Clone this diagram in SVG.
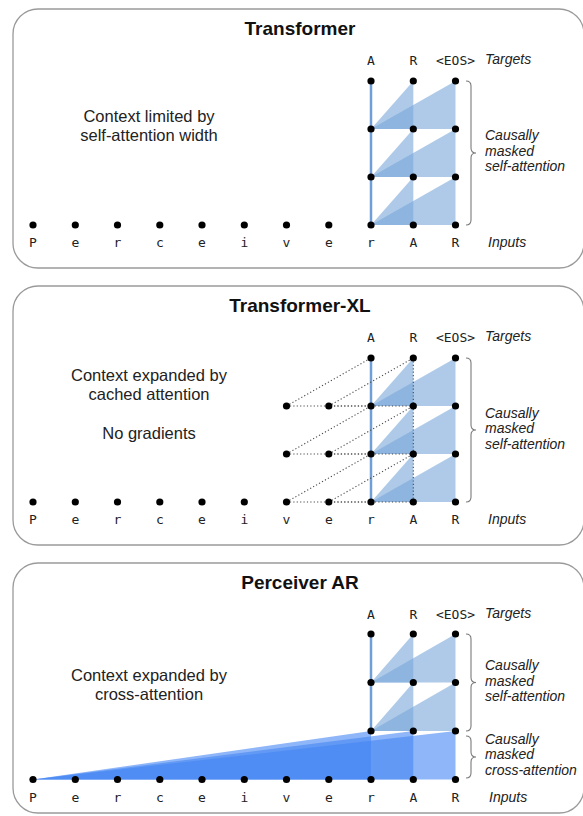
<svg xmlns="http://www.w3.org/2000/svg" width="583" height="816" viewBox="0 0 583 816">
  <style>
    .panel { fill: #ffffff; stroke: #9a9a9a; stroke-width: 1.3; }
    .title { font-family: "Liberation Sans", Arial, sans-serif; font-weight: bold; font-size: 19px; fill: #111; text-anchor: middle; }
    .note { font-family: "Liberation Sans", Arial, sans-serif; font-size: 16.5px; fill: #222; text-anchor: middle; }
    .side { font-family: "Liberation Sans", Arial, sans-serif; font-style: italic; font-size: 14px; fill: #222; }
    .tok { font-family: "DejaVu Sans Mono", "Liberation Mono", monospace; font-size: 13px; fill: #222; text-anchor: middle; }
    .self { fill: #78a7d9; fill-opacity: 0.6; stroke: none; }
    .cross { fill: #4285f4; fill-opacity: 0.6; stroke: none; }
    .aline { stroke: #6f9fd6; stroke-width: 2.5; fill: none; }
    .dot { fill: #000; }
    .dotted { stroke: #4a4a4a; stroke-width: 1.1; stroke-dasharray: 1.2 2.2; fill: none; }
    .brace { stroke: #7a7a7a; stroke-width: 1.1; fill: none; }
  </style>

  <!-- ===================== Panel 1: Transformer ===================== -->
  <g id="transformer">
    <rect class="panel" x="13" y="9" width="571" height="259" rx="25"/>
    <text class="title" x="300" y="35">Transformer</text>
    <text class="note" x="149" y="122">Context limited by</text>
    <text class="note" x="149" y="141">self-attention width</text>

    <g id="t-attention">
      <polygon class="self" points="371,129 413.3,81 413.3,129"/>
      <polygon class="self" points="371,129 455.5,81 455.5,129"/>
      <polygon class="self" points="371,177 413.3,129 413.3,177"/>
      <polygon class="self" points="371,177 455.5,129 455.5,177"/>
      <polygon class="self" points="371,225 413.3,177 413.3,225"/>
      <polygon class="self" points="371,225 455.5,177 455.5,225"/>
      <line class="aline" x1="371" y1="81" x2="371" y2="225"/>
    </g>

    <g id="t-nodes">
      <circle class="dot" cx="371" cy="81" r="3.6"/>
      <circle class="dot" cx="413.3" cy="81" r="3.6"/>
      <circle class="dot" cx="455.5" cy="81" r="3.6"/>
      <circle class="dot" cx="371" cy="129" r="3.6"/>
      <circle class="dot" cx="413.3" cy="129" r="3.6"/>
      <circle class="dot" cx="455.5" cy="129" r="3.6"/>
      <circle class="dot" cx="371" cy="177" r="3.6"/>
      <circle class="dot" cx="413.3" cy="177" r="3.6"/>
      <circle class="dot" cx="455.5" cy="177" r="3.6"/>
      <circle class="dot" cx="33" cy="225" r="3.6"/>
      <circle class="dot" cx="75.3" cy="225" r="3.6"/>
      <circle class="dot" cx="117.5" cy="225" r="3.6"/>
      <circle class="dot" cx="159.8" cy="225" r="3.6"/>
      <circle class="dot" cx="202" cy="225" r="3.6"/>
      <circle class="dot" cx="244.3" cy="225" r="3.6"/>
      <circle class="dot" cx="286.5" cy="225" r="3.6"/>
      <circle class="dot" cx="328.8" cy="225" r="3.6"/>
      <circle class="dot" cx="371" cy="225" r="3.6"/>
      <circle class="dot" cx="413.3" cy="225" r="3.6"/>
      <circle class="dot" cx="455.5" cy="225" r="3.6"/>
    </g>

    <g id="t-labels">
      <text class="tok" x="371" y="65">A</text>
      <text class="tok" x="413.3" y="65">R</text>
      <text class="tok" x="455.5" y="65">&lt;EOS&gt;</text>
      <text class="side" x="485" y="64">Targets</text>
      <text class="tok" x="33" y="247">P</text>
      <text class="tok" x="75.3" y="247">e</text>
      <text class="tok" x="117.5" y="247">r</text>
      <text class="tok" x="159.8" y="247">c</text>
      <text class="tok" x="202" y="247">e</text>
      <text class="tok" x="244.3" y="247">i</text>
      <text class="tok" x="286.5" y="247">v</text>
      <text class="tok" x="328.8" y="247">e</text>
      <text class="tok" x="371" y="247">r</text>
      <text class="tok" x="413.3" y="247">A</text>
      <text class="tok" x="455.5" y="247">R</text>
      <text class="side" x="488" y="247">Inputs</text>
      <path class="brace" d="M466 81 Q471 81 471 86 L471 148 Q471 153 476 153 Q471 153 471 158 L471 220 Q471 225 466 225"/>
      <text class="side" x="485" y="140">Causally</text>
      <text class="side" x="485" y="155.5">masked</text>
      <text class="side" x="485" y="171">self-attention</text>
    </g>
  </g>

  <!-- ===================== Panel 2: Transformer-XL ===================== -->
  <g id="transformer-xl">
    <rect class="panel" x="13" y="286" width="571" height="259" rx="25"/>
    <text class="title" x="300" y="312">Transformer-XL</text>
    <text class="note" x="149" y="381">Context expanded by</text>
    <text class="note" x="149" y="400">cached attention</text>
    <text class="note" x="149" y="439">No gradients</text>

    <g id="xl-attention">
      <polygon class="self" points="371,406 413.3,358 413.3,406"/>
      <polygon class="self" points="371,406 455.5,358 455.5,406"/>
      <polygon class="self" points="371,454 413.3,406 413.3,454"/>
      <polygon class="self" points="371,454 455.5,406 455.5,454"/>
      <polygon class="self" points="371,502 413.3,454 413.3,502"/>
      <polygon class="self" points="371,502 455.5,454 455.5,502"/>
      <line class="aline" x1="371" y1="358" x2="371" y2="502"/>
    </g>

    <!-- cached-memory connections (no gradients) -->
    <g id="xl-connectors">
      <line class="dotted" x1="286.5" y1="406" x2="371" y2="358"/>
      <line class="dotted" x1="328.8" y1="406" x2="413.3" y2="358"/>
      <line class="dotted" x1="286.5" y1="454" x2="371" y2="406"/>
      <line class="dotted" x1="328.8" y1="454" x2="413.3" y2="406"/>
      <line class="dotted" x1="286.5" y1="502" x2="371" y2="454"/>
      <line class="dotted" x1="328.8" y1="502" x2="413.3" y2="454"/>
      <line class="dotted" x1="286.5" y1="406" x2="413.3" y2="406"/>
      <line class="dotted" x1="286.5" y1="454" x2="413.3" y2="454"/>
      <line class="dotted" x1="286.5" y1="502" x2="413.3" y2="502"/>
      <line class="dotted" x1="328.8" y1="406" x2="371" y2="406" stroke-dashoffset="1.7"/>
      <line class="dotted" x1="328.8" y1="454" x2="371" y2="454" stroke-dashoffset="1.7"/>
      <line class="dotted" x1="328.8" y1="502" x2="371" y2="502" stroke-dashoffset="1.7"/>
      <line class="dotted" x1="413.3" y1="358" x2="413.3" y2="502"/>
    </g>

    <g id="xl-nodes">
      <circle class="dot" cx="371" cy="358" r="3.6"/>
      <circle class="dot" cx="413.3" cy="358" r="3.6"/>
      <circle class="dot" cx="455.5" cy="358" r="3.6"/>
      <circle class="dot" cx="286.5" cy="406" r="3.6"/>
      <circle class="dot" cx="328.8" cy="406" r="3.6"/>
      <circle class="dot" cx="371" cy="406" r="3.6"/>
      <circle class="dot" cx="413.3" cy="406" r="3.6"/>
      <circle class="dot" cx="455.5" cy="406" r="3.6"/>
      <circle class="dot" cx="286.5" cy="454" r="3.6"/>
      <circle class="dot" cx="328.8" cy="454" r="3.6"/>
      <circle class="dot" cx="371" cy="454" r="3.6"/>
      <circle class="dot" cx="413.3" cy="454" r="3.6"/>
      <circle class="dot" cx="455.5" cy="454" r="3.6"/>
      <circle class="dot" cx="33" cy="502" r="3.6"/>
      <circle class="dot" cx="75.3" cy="502" r="3.6"/>
      <circle class="dot" cx="117.5" cy="502" r="3.6"/>
      <circle class="dot" cx="159.8" cy="502" r="3.6"/>
      <circle class="dot" cx="202" cy="502" r="3.6"/>
      <circle class="dot" cx="244.3" cy="502" r="3.6"/>
      <circle class="dot" cx="286.5" cy="502" r="3.6"/>
      <circle class="dot" cx="328.8" cy="502" r="3.6"/>
      <circle class="dot" cx="371" cy="502" r="3.6"/>
      <circle class="dot" cx="413.3" cy="502" r="3.6"/>
      <circle class="dot" cx="455.5" cy="502" r="3.6"/>
    </g>

    <g id="xl-labels">
      <text class="tok" x="371" y="342">A</text>
      <text class="tok" x="413.3" y="342">R</text>
      <text class="tok" x="455.5" y="342">&lt;EOS&gt;</text>
      <text class="side" x="485" y="341">Targets</text>
      <text class="tok" x="33" y="524">P</text>
      <text class="tok" x="75.3" y="524">e</text>
      <text class="tok" x="117.5" y="524">r</text>
      <text class="tok" x="159.8" y="524">c</text>
      <text class="tok" x="202" y="524">e</text>
      <text class="tok" x="244.3" y="524">i</text>
      <text class="tok" x="286.5" y="524">v</text>
      <text class="tok" x="328.8" y="524">e</text>
      <text class="tok" x="371" y="524">r</text>
      <text class="tok" x="413.3" y="524">A</text>
      <text class="tok" x="455.5" y="524">R</text>
      <text class="side" x="488" y="524">Inputs</text>
      <path class="brace" d="M466 358 Q471 358 471 363 L471 425 Q471 430 476 430 Q471 430 471 435 L471 497 Q471 502 466 502"/>
      <text class="side" x="485" y="417.5">Causally</text>
      <text class="side" x="485" y="433">masked</text>
      <text class="side" x="485" y="448.5">self-attention</text>
    </g>
  </g>

  <!-- ===================== Panel 3: Perceiver AR ===================== -->
  <g id="perceiver-ar">
    <rect class="panel" x="13" y="563" width="571" height="250" rx="25"/>
    <text class="title" x="300" y="589">Perceiver AR</text>
    <text class="note" x="149" y="681">Context expanded by</text>
    <text class="note" x="149" y="700">cross-attention</text>

    <g id="par-cross-attention">
      <polygon class="cross" points="33,779.5 371,731 371,779.5"/>
      <polygon class="cross" points="33,779.5 413.3,731 413.3,779.5"/>
      <polygon class="cross" points="33,779.5 455.5,731 455.5,779.5"/>
    </g>

    <g id="par-self-attention">
      <polygon class="self" points="371,682.5 413.3,634 413.3,682.5"/>
      <polygon class="self" points="371,682.5 455.5,634 455.5,682.5"/>
      <polygon class="self" points="371,731 413.3,682.5 413.3,731"/>
      <polygon class="self" points="371,731 455.5,682.5 455.5,731"/>
      <line class="aline" x1="371" y1="634" x2="371" y2="731"/>
    </g>

    <g id="par-nodes">
      <circle class="dot" cx="371" cy="634" r="3.6"/>
      <circle class="dot" cx="413.3" cy="634" r="3.6"/>
      <circle class="dot" cx="455.5" cy="634" r="3.6"/>
      <circle class="dot" cx="371" cy="682.5" r="3.6"/>
      <circle class="dot" cx="413.3" cy="682.5" r="3.6"/>
      <circle class="dot" cx="455.5" cy="682.5" r="3.6"/>
      <circle class="dot" cx="371" cy="731" r="3.6"/>
      <circle class="dot" cx="413.3" cy="731" r="3.6"/>
      <circle class="dot" cx="455.5" cy="731" r="3.6"/>
      <circle class="dot" cx="33" cy="779.5" r="3.6"/>
      <circle class="dot" cx="75.3" cy="779.5" r="3.6"/>
      <circle class="dot" cx="117.5" cy="779.5" r="3.6"/>
      <circle class="dot" cx="159.8" cy="779.5" r="3.6"/>
      <circle class="dot" cx="202" cy="779.5" r="3.6"/>
      <circle class="dot" cx="244.3" cy="779.5" r="3.6"/>
      <circle class="dot" cx="286.5" cy="779.5" r="3.6"/>
      <circle class="dot" cx="328.8" cy="779.5" r="3.6"/>
      <circle class="dot" cx="371" cy="779.5" r="3.6"/>
      <circle class="dot" cx="413.3" cy="779.5" r="3.6"/>
      <circle class="dot" cx="455.5" cy="779.5" r="3.6"/>
    </g>

    <g id="par-labels">
      <text class="tok" x="371" y="619">A</text>
      <text class="tok" x="413.3" y="619">R</text>
      <text class="tok" x="455.5" y="619">&lt;EOS&gt;</text>
      <text class="side" x="485" y="618">Targets</text>
      <text class="tok" x="33" y="802">P</text>
      <text class="tok" x="75.3" y="802">e</text>
      <text class="tok" x="117.5" y="802">r</text>
      <text class="tok" x="159.8" y="802">c</text>
      <text class="tok" x="202" y="802">e</text>
      <text class="tok" x="244.3" y="802">i</text>
      <text class="tok" x="286.5" y="802">v</text>
      <text class="tok" x="328.8" y="802">e</text>
      <text class="tok" x="371" y="802">r</text>
      <text class="tok" x="413.3" y="802">A</text>
      <text class="tok" x="455.5" y="802">R</text>
      <text class="side" x="489" y="802">Inputs</text>
      <path class="brace" d="M466 634 Q471 634 471 639 L471 677.5 Q471 682.5 476 682.5 Q471 682.5 471 687.5 L471 726 Q471 731 466 731"/>
      <text class="side" x="485" y="670">Causally</text>
      <text class="side" x="485" y="685.5">masked</text>
      <text class="side" x="485" y="701">self-attention</text>
      <path class="brace" d="M466 736 Q471 736 471 741 L471 752 Q471 757 476 757 Q471 757 471 762 L471 773 Q471 778 466 778"/>
      <text class="side" x="485" y="744">Causally</text>
      <text class="side" x="485" y="759">masked</text>
      <text class="side" x="485" y="774.5">cross-attention</text>
    </g>
  </g>
</svg>
